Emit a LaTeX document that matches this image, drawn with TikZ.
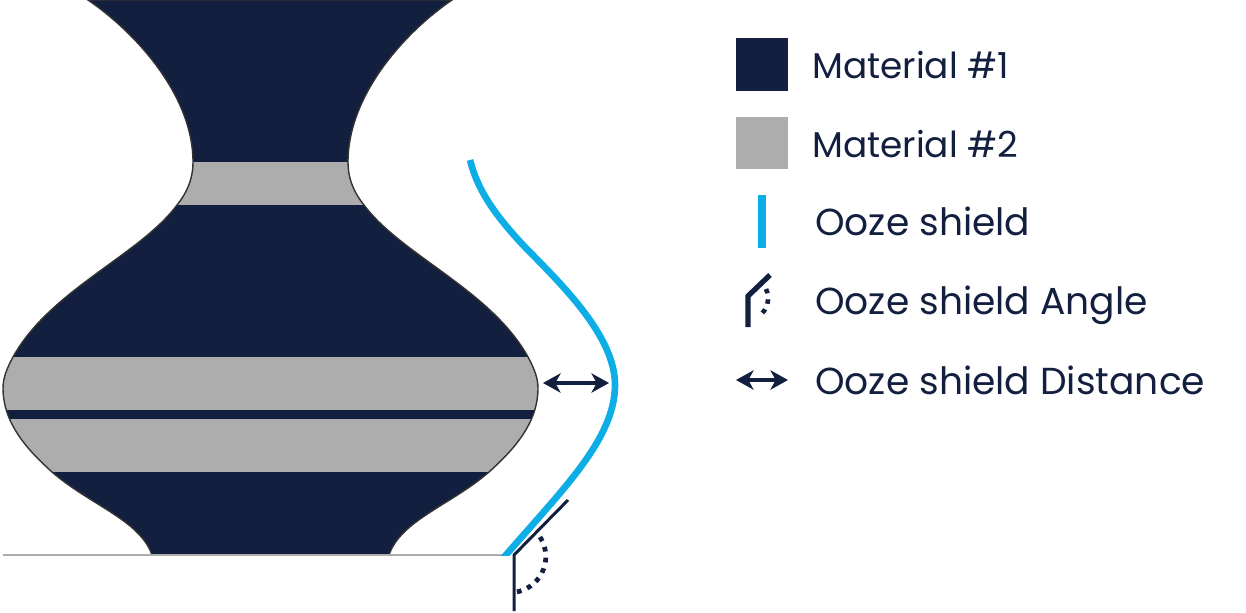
\documentclass[tikz,border=0pt]{standalone}
\usepackage{fontspec}
\setmainfont{Poppins}
\usetikzlibrary{positioning,arrows.meta}

\definecolor{navy}{HTML}{131F3E}
\definecolor{stone}{HTML}{ADADAD}
\definecolor{shieldblue}{HTML}{0DADE5}

\tikzset{
  swatch/.style={minimum size=29.6pt, inner sep=0pt, outer sep=0pt},
  legendtext/.style={anchor=base west, inner sep=0pt, text=navy, font=\fontsize{21.4}{26}\selectfont},
  materialtext/.style={legendtext, font=\fontsize{20.4}{26}\selectfont},
  shieldline/.style={shieldblue, line width=3.8pt},
  gapline/.style={navy, line width=2.6pt, {Stealth[length=10pt,width=11pt,inset=3pt]}-{Stealth[length=10pt,width=11pt,inset=3pt]}},
}

\def\vasepath{(88,0) .. controls (135,32) and (193,95) .. (193,162)
  .. controls (193,180) and (186,194) .. (177,205)
  .. controls (140,255) and (50,290) .. (13,357)
  .. controls (7,368) and (3,378) .. (3,388)
  .. controls (3,425) and (30,452) .. (52,472)
  .. controls (90,505) and (140,520) .. (152,555)
  -- (389,555)
  .. controls (401,520) and (451,505) .. (489,472)
  .. controls (511,452) and (538,425) .. (538,388)
  .. controls (538,378) and (534,368) .. (528,357)
  .. controls (491,290) and (401,255) .. (364,205)
  .. controls (355,194) and (348,180) .. (348,162)
  .. controls (348,95) and (405,32) .. (452,0) -- cycle}

\begin{document}
\begin{tikzpicture}[x=0.02cm, y=-0.02cm]
\useasboundingbox (0,0) rectangle (1246,612);

\def\xsw{761.5}
\def\xtxt{815}
\def\ya{78}
\def\yb{157}
\def\yc{235}
\def\yd{314}
\def\ye{394}

\begin{scope}
\clip \vasepath;
\fill[navy] (0,0) rectangle (560,556);
\fill[stone] (0,162) rectangle (560,205);
\fill[stone] (0,357) rectangle (560,410);
\fill[stone] (0,419) rectangle (560,472);
\end{scope}
\draw[black!80, line width=0.8pt] \vasepath;

\coordinate (base l) at (3,555);
\coordinate (base r) at (505,555);
\draw[stone, line width=0.7pt] (base l) -- (base r);

\coordinate (sh top) at (470,160);
\coordinate (sh bot) at (502.5,559);
\begin{scope}
\clip (0,0) rectangle (1246,555);
\draw[shieldline] (sh top) .. controls (478,192) and (497,217) .. (523,245)
  .. controls (560,283) and (615,335) .. (615,385)
  .. controls (615,440) and (560,492) .. (sh bot);
\end{scope}

\coordinate (gap l) at (543,383);
\coordinate (gap r) at (609,383);
\draw[gapline] (gap l) -- (gap r);

\coordinate (ang o) at (514,555);
\coordinate (ang a) at (514,611);
\coordinate (ang b) at (568,500);
\draw[navy, line width=1.7pt] (ang a) -- (ang o) -- (ang b);
\draw[navy, line width=2.7pt, dash pattern=on 2.7pt off 3.5pt] (540,537) arc (-33:82:36);

\node[swatch, fill=navy] (sw one) at (\xsw, 64.5) {};
\node[swatch, fill=stone] (sw two) at (\xsw, 143) {};
\node[materialtext] (lb one) at (812, \ya) {Material \#1};
\node[materialtext] (lb two) at (812, \yb) {Material \#2};
\node[legendtext] (lb shield) at (\xtxt, \yc) {Ooze shield};
\node[legendtext] (lb angle) at (\xtxt, \yd) {Ooze shield Angle};
\node[legendtext] (lb dist) at (\xtxt, \ye) {Ooze shield Distance};

\coordinate (key a) at (762,195);
\coordinate (key b) at (762,248);
\draw[shieldblue, line width=4.4pt] (key a) -- (key b);

\coordinate (key c) at (748,327);
\coordinate (key d) at (748,296);
\coordinate (key e) at (770,275);
\draw[navy, line width=3pt] (key c) -- (key d) -- (key e);
\draw[navy, line width=2.6pt, dash pattern=on 2.6pt off 3.4pt] (766,289) arc (-25:55:22);

\coordinate (key f) at (736,380);
\coordinate (key g) at (788,380);
\draw[gapline] (key f) -- (key g);

\end{tikzpicture}
\end{document}
